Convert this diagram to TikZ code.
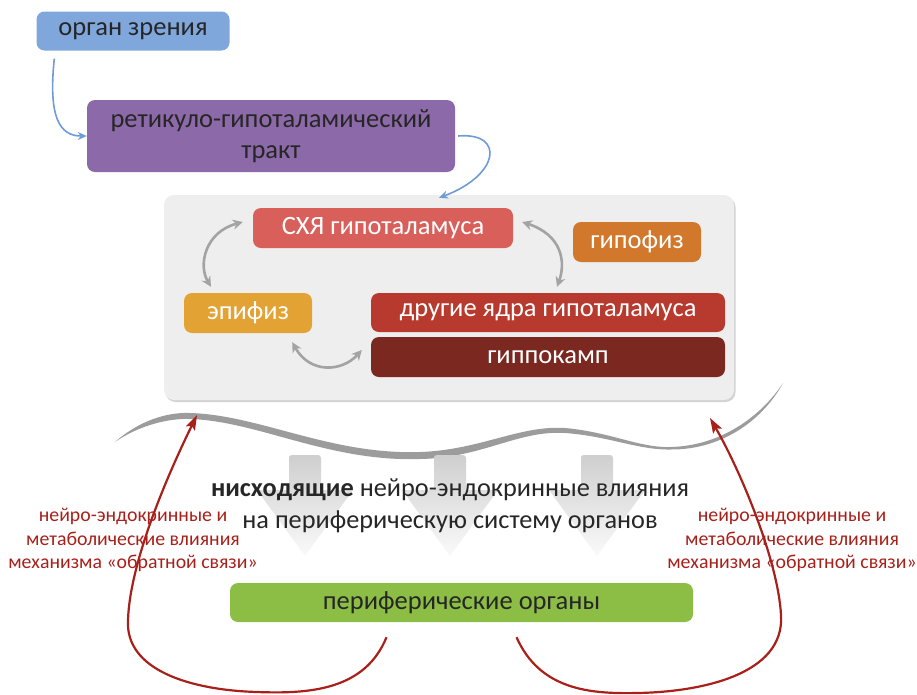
\documentclass[tikz,border=0pt]{standalone}
\usepackage{fontspec}
\setmainfont{Carlito}
\usetikzlibrary{arrows.meta,calc,shadows}

\definecolor{visionblue}{HTML}{7FA7DC}
\definecolor{tractpurple}{HTML}{8C69A8}
\definecolor{panelgray}{HTML}{EEEEEE}
\definecolor{schred}{HTML}{D9605A}
\definecolor{hypoorange}{HTML}{D2782C}
\definecolor{epigold}{HTML}{E3A234}
\definecolor{nucleired}{HTML}{B83A2E}
\definecolor{hippobrown}{HTML}{7A2820}
\definecolor{periphgreen}{HTML}{8CBE46}
\definecolor{fbred}{HTML}{A8201A}
\definecolor{linkblue}{HTML}{6F9BD6}
\definecolor{linkgray}{HTML}{A3A3A3}
\definecolor{wavegray}{HTML}{9C9C9C}

\begin{document}
\begin{tikzpicture}[
  x=1pt, y=-1pt,
  organ/.style={rectangle, rounded corners=8pt, inner sep=0pt, align=center, font=\fontsize{26.5}{31}\selectfont},
  darktext/.style={organ, text=black!85},
  lighttext/.style={organ, text=white},
  bluearrow/.style={-{Stealth[length=9pt,width=8pt]}, linkblue, line width=1.6pt},
  grayarrow/.style={{Stealth[length=10pt,width=10pt]}-{Stealth[length=10pt,width=10pt]}, linkgray, line width=2.6pt},
  fbarrow/.style={-{Stealth[length=15pt,width=10pt,inset=3pt]}, fbred, line width=2.2pt},
  fbtext/.style={align=center, text=fbred, font=\fontsize{19.8}{23.5}\selectfont}
]
\useasboundingbox (0,0) rectangle (917,694);

% Top chain
\node[darktext, fill=visionblue, minimum width=193pt, minimum height=39pt] (vision) at (133,31) {орган зрения};
\node[darktext, fill=tractpurple, minimum width=368pt, minimum height=72pt] (tract) at (271,136) {ретикуло-гипоталамический\\тракт};

% Brain panel
\node[rectangle, rounded corners=10pt, fill=panelgray, minimum width=570pt, minimum height=205pt,
  drop shadow={opacity=0.35, shadow xshift=1.5pt, shadow yshift=-2pt}] (panel) at (449,297.5) {};

\node[lighttext, fill=schred, minimum width=260pt, minimum height=40pt] (sch) at (383,228) {СХЯ гипоталамуса};
\node[lighttext, fill=hypoorange, minimum width=128pt, minimum height=40pt] (hypo) at (637,242) {гипофиз};
\node[lighttext, fill=epigold, minimum width=128pt, minimum height=40pt] (epi) at (248,313) {эпифиз};
\node[lighttext, fill=nucleired, minimum width=354pt, minimum height=39pt] (nuclei) at (548,312.5) {другие ядра гипоталамуса};
\node[lighttext, fill=hippobrown, minimum width=354pt, minimum height=40pt] (hippo) at (548,357) {гиппокамп};

% Arrows in the top part
\draw[bluearrow] ($(vision.south west)+(18,8)$) .. controls (48,118) and (60,136) .. (tract.west);
\draw[bluearrow] ($(tract.east)+(3,0)$) .. controls (505,132) and (500,175) .. ($(panel.north)+(-10,3)$);
\draw[grayarrow] ($(sch.west)+(-10,-6)$) .. controls (205,232) and (198,265) .. ($(epi.north)+(-37,-6)$);
\draw[grayarrow] ($(sch.east)+(9,-6)$) .. controls (562,235) and (566,262) .. ($(nuclei.north)+(9,-6)$);
\draw[grayarrow] ($(epi.south east)+(-20,9)$) .. controls (310,374) and (342,372) .. ($(hippo.west)+(-9,-7)$);

% Wave
\fill[wavegray] (115,442) .. controls (140,420) and (168,412) .. (190,413)
  .. controls (260,415) and (330,455) .. (420,452)
  .. controls (480,450) and (520,425) .. (565,428)
  .. controls (610,432) and (640,448) .. (670,447)
  .. controls (722,446) and (762,415) .. (783,383)
  .. controls (764,418) and (724,450) .. (670,449.5)
  .. controls (638,450) and (608,436) .. (565,433)
  .. controls (518,430) and (482,458) .. (420,459)
  .. controls (328,462) and (258,421) .. (190,419)
  .. controls (168,418) and (138,426) .. (115,442) -- cycle;
\coordinate (waveL) at (197,415);
\coordinate (waveR) at (710,418);

% Descending arrows
\foreach \cx in {305,450,597} {
  \shade[top color=gray!38, bottom color=gray!4]
    (\cx-16,458) -- (\cx-16,490) -- (\cx-48,490) -- (\cx,556) -- (\cx+48,490) -- (\cx+16,490) -- (\cx+16,458)
    [rounded corners=3pt] -- (\cx+16,455) -- (\cx-16,455) -- cycle;
}

\node[align=center, text=black!85, font=\fontsize{26.3}{32}\selectfont] (desc) at (450,506)
  {\textbf{нисходящие} нейро-эндокринные влияния\\на периферическую систему органов};

% Periphery
\node[darktext, fill=periphgreen, minimum width=463pt, minimum height=39pt] (periph) at (461.5,602.5) {периферические органы};

% Feedback
\node[fbtext] (fbleft) at (133,540) {нейро-эндокринные и\\метаболические влияния\\механизма «обратной связи»};
\node[fbtext] (fbright) at (792,540) {нейро-эндокринные и\\метаболические влияния\\механизма «обратной связи»};

\draw[fbarrow] ($(periph.south)+(-75,15)$) .. controls (365,690) and (310,694) .. (257,692)
  .. controls (190,690) and (125,670) .. (128,620)
  .. controls (130,560) and (170,470) .. (waveL);
\draw[fbarrow] ($(periph.south)+(55,15)$) .. controls (540,690) and (590,694) .. (637,693)
  .. controls (700,692) and (785,675) .. (781,615)
  .. controls (778,560) and (740,470) .. (waveR);

\end{tikzpicture}
\end{document}
